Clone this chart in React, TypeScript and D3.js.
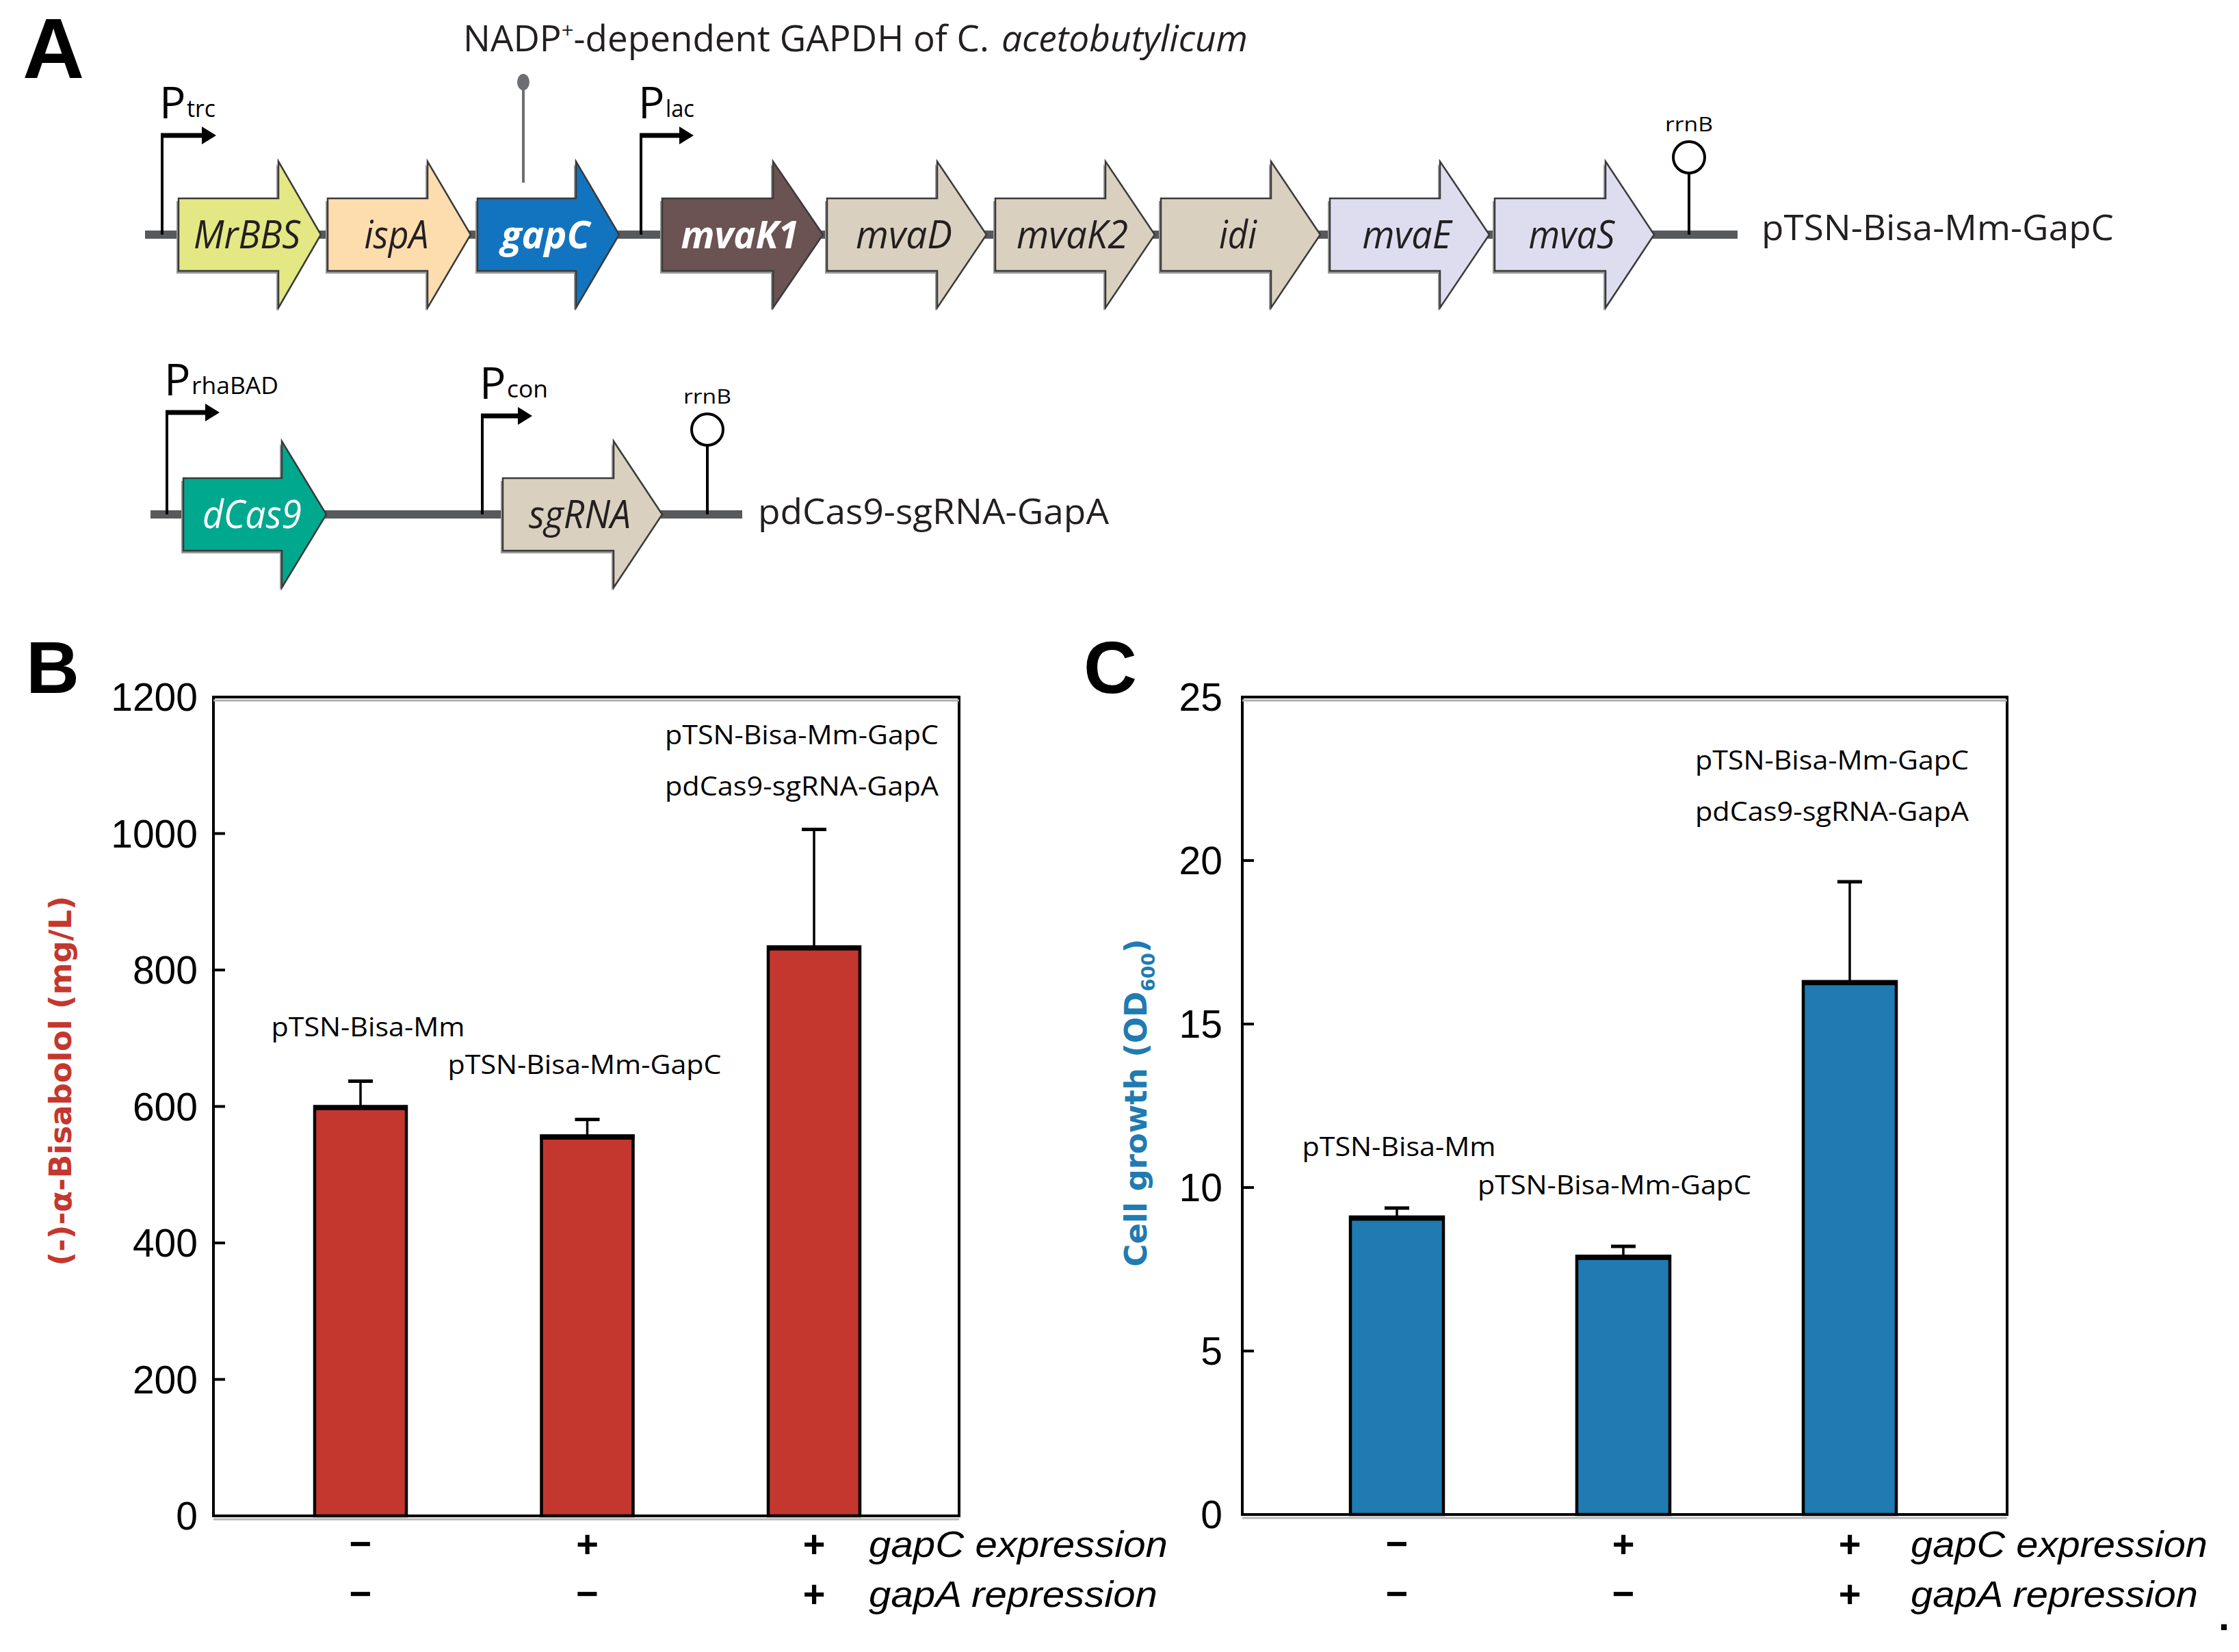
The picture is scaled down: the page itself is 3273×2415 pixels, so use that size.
import React from 'react';
import * as d3 from 'd3';

// ---------------- DATA ----------------
const categories = ['pTSN-Bisa-Mm', 'pTSN-Bisa-Mm-GapC', 'pTSN-Bisa-Mm-GapC/pdCas9-sgRNA-GapA'];
const bisabolol = [600, 557, 834];
const bisabololErr = [37, 24, 172];
const growth = [9.1, 7.9, 16.3];
const growthErr = [0.27, 0.3, 3.05];
const gapCExpression = ['\u2212', '+', '+'];
const gapARepression = ['\u2212', '\u2212', '+'];
const bisabololTicks = [0, 200, 400, 600, 800, 1000, 1200];
const growthTicks = [0, 5, 10, 15, 20, 25];
const barLabels = [['pTSN-Bisa-Mm'], ['pTSN-Bisa-Mm-GapC'], ['pTSN-Bisa-Mm-GapC', 'pdCas9-sgRNA-GapA']];

const operon1Genes = ['MrBBS', 'ispA', 'gapC', 'mvaK1', 'mvaD', 'mvaK2', 'idi', 'mvaE', 'mvaS'];
const operon1Colors = ['#E3E784', '#FDDCAE', '#1274BF', '#6B5253', '#D9D0BF', '#D9D0BF', '#D9D0BF', '#DEDDF0', '#DEDDF0'];
const operon2Genes = ['dCas9', 'sgRNA'];
const operon2Colors = ['#00A88E', '#D9D0BF'];

// ---------------- LAYOUT ----------------
const W = 3273;
const H = 2415;
const FONT_M = "'Open Sans', 'Noto Sans', sans-serif";
const FONT_A = "'Liberation Sans', Arial, sans-serif";
const FONT_V = "'DejaVu Sans', Verdana, sans-serif";

// gene arrow layout (start, head base, tip) in px
const op1Layout = [
  [261, 407, 469], [479, 625, 688], [698, 842, 905], [968, 1130, 1203], [1209, 1370, 1442],
  [1455, 1616, 1688], [1697, 1858, 1930], [1944, 2105, 2177], [2185, 2347, 2418],
];
const op1LabelW = [156, 94, 130, 172, 141, 163, 55, 130, 126];
const op1LabelStyle = ['n', 'n', 'w', 'w', 'n', 'n', 'n', 'n', 'n'];
const op2Layout = [[268, 412, 477], [735, 897, 968]];
const op2LabelW = [145, 149];
const op2LabelStyle = ['wl', 'n'];

function arrowPath(x0: number, xh: number, tip: number, c: number, bh: number, hh: number) {
  const p = d3.path();
  p.moveTo(x0, c - bh);
  p.lineTo(xh, c - bh);
  p.lineTo(xh, c - hh);
  p.lineTo(tip, c);
  p.lineTo(xh, c + hh);
  p.lineTo(xh, c + bh);
  p.lineTo(x0, c + bh);
  p.closePath();
  return p.toString();
}

function GeneRow({ genes, colors, layout, labelW, styles, cy }: any) {
  return (
    <g>
      {genes.map((g: string, i: number) => {
        const [x0, xh, tip] = layout[i];
        const st = styles[i];
        const white = st === 'w' || st === 'wl';
        return (
          <g key={g}>
            <path d={arrowPath(x0 - 3, xh - 3, tip - 3, cy + 4, 53, 107)} fill="#9a9a9a" />
            <path d={arrowPath(x0, xh, tip, cy, 53, 107)} fill={colors[i]} stroke="#3a3a3a" strokeWidth={2.5} strokeLinejoin="miter" />
            <text x={(x0 + tip) / 2 - 4} y={cy + 20} textAnchor="middle" fontFamily={FONT_M}
              fontStyle="italic" fontWeight={st === 'w' ? 700 : 400} fontSize={56}
              fill={white ? '#ffffff' : '#231F20'} textLength={labelW[i]} lengthAdjust="spacingAndGlyphs">{g}</text>
          </g>
        );
      })}
    </g>
  );
}

function Promoter({ x, base, top, len, label, sub, subW }: any) {
  const hx = x + len;
  return (
    <g>
      <line x1={x} y1={base} x2={x} y2={top} stroke="#000" strokeWidth={4} />
      <line x1={x - 2} y1={top} x2={hx} y2={top} stroke="#000" strokeWidth={7} />
      <path d={`M${hx},${top - 13}L${hx + 21},${top}L${hx},${top + 13}Z`} fill="#000" />
      <text x={x - 4} y={top - 25} fontFamily={FONT_M} fontSize={64} fill="#000">{label}</text>
      <text x={x + 36} y={top - 27} fontFamily={FONT_M} fontSize={34} fill="#000" textLength={subW} lengthAdjust="spacingAndGlyphs">{sub}</text>
    </g>
  );
}

function Terminator({ x, base, stem, r }: any) {
  const cy = base - stem - r;
  return (
    <g>
      <line x1={x} y1={base} x2={x} y2={cy + r} stroke="#000" strokeWidth={4} />
      <circle cx={x} cy={cy} r={r} fill="#fff" stroke="#000" strokeWidth={4} />
      <text x={x} y={cy - r - 15} textAnchor="middle" fontFamily={FONT_M} fontSize={30} fill="#000" textLength={70} lengthAdjust="spacingAndGlyphs">rrnB</text>
    </g>
  );
}

function BarPanel({ values, errors, ticks, left, right, top, bottom, centers, barW, fill, tickRight,
  yLabel, yLabelX, yLabelY, topOffset, labelOffset, labelDx, condX, condW }: any) {
  const max = ticks[ticks.length - 1];
  const y = d3.scaleLinear().domain([0, max]).range([bottom, top]);
  const x = d3.scalePoint<string>().domain(categories).range(centers);
  const row1 = 2276;
  const row2 = 2349;
  return (
    <g>
      {/* bars */}
      {categories.map((c, i) => {
        const cx = x(c)!;
        const yt = y(values[i]);
        const ye = y(values[i] + errors[i]);
        return (
          <g key={c}>
            <line x1={cx} y1={yt} x2={cx} y2={ye} stroke="#000" strokeWidth={3.5} />
            <line x1={cx - 18} y1={ye} x2={cx + 18} y2={ye} stroke="#000" strokeWidth={5} />
            <rect x={cx - barW / 2} y={yt} width={barW} height={bottom - yt} fill={fill} stroke="#000" strokeWidth={4.5} />
            <line x1={cx - barW / 2 - 2} y1={yt + 2} x2={cx + barW / 2 + 2} y2={yt + 2} stroke="#000" strokeWidth={7} />
          </g>
        );
      })}
      {/* frame */}
      <rect x={left} y={top} width={right - left} height={bottom - top} fill="none" stroke="#000" strokeWidth={4} />
      <line x1={left} y1={top + 5} x2={right} y2={top + 5} stroke="#b0b0b0" strokeWidth={3} />
      <line x1={left} y1={bottom + 5} x2={right} y2={bottom + 5} stroke="#b8b8b8" strokeWidth={3} />
      {/* ticks */}
      {ticks.map((t: number) => (
        <g key={t}>
          <line x1={left} y1={y(t)} x2={left + 17} y2={y(t)} stroke="#000" strokeWidth={4} />
          <text x={tickRight} y={y(t) + 20} textAnchor="end" fontFamily={FONT_A} fontSize={57} fill="#000">{t}</text>
        </g>
      ))}
      {/* y label */}
      <text transform={`translate(${yLabelX},${yLabelY}) rotate(-90)`} textAnchor="middle" fontFamily={FONT_V}
        fontWeight={700} fontSize={45} fill={fill}>{yLabel}</text>
      {/* annotations */}
      {barLabels.map((lines, i) => {
        const cx = x(categories[i])! + labelDx[i];
        if (lines.length === 1) {
          const ye = y(values[i] + errors[i]);
          return (
            <text key={i} x={cx} y={ye - labelOffset} textAnchor="middle" fontFamily={FONT_M} fontSize={39} fill="#000"
              textLength={lines[0].length > 13 ? 400 : 283} lengthAdjust="spacingAndGlyphs">{lines[0]}</text>
          );
        }
        return (
          <g key={i}>
            {lines.map((l: string, j: number) => (
              <text key={j} x={cx} y={top + topOffset + j * 75} textAnchor="middle" fontFamily={FONT_M} fontSize={39}
                fill="#000" textLength={400} lengthAdjust="spacingAndGlyphs">{l}</text>
            ))}
          </g>
        );
      })}
      {/* condition rows */}
      {categories.map((c, i) => (
        <g key={'cond' + i}>
          <text x={x(c)!} y={row1} textAnchor="middle" fontFamily={FONT_A} fontWeight={700} fontSize={56} fill="#000">{gapCExpression[i]}</text>
          <text x={x(c)!} y={row2} textAnchor="middle" fontFamily={FONT_A} fontWeight={700} fontSize={56} fill="#000">{gapARepression[i]}</text>
        </g>
      ))}
      <text x={condX} y={row1} fontFamily={FONT_A} fontStyle="italic" fontSize={53} fill="#000" textLength={condW[0]} lengthAdjust="spacingAndGlyphs">gapC expression</text>
      <text x={condX} y={row2} fontFamily={FONT_A} fontStyle="italic" fontSize={53} fill="#000" textLength={condW[1]} lengthAdjust="spacingAndGlyphs">gapA repression</text>
    </g>
  );
}

export default function App() {
  React.useEffect(() => {
    document.body.style.margin = '0';
  }, []);
  const cy1 = 343;
  const cy2 = 752;
  return (
    <svg width={W} height={H} viewBox={`0 0 ${W} ${H}`} style={{ position: 'absolute', left: 0, top: 0, display: 'block', background: '#fff' }}
      xmlns="http://www.w3.org/2000/svg">
      <rect x={0} y={0} width={W} height={H} fill="#fff" />
      {/* Panel letters */}
      <text x={33} y={114} fontFamily={FONT_A} fontWeight={700} fontSize={125} fill="#000">A</text>
      <text x={38} y={1013} fontFamily={FONT_A} fontWeight={700} fontSize={108} fill="#000">B</text>
      <text x={1584} y={1013} fontFamily={FONT_A} fontWeight={700} fontSize={108} fill="#000">C</text>

      {/* ---------- Panel A row 1 ---------- */}
      <line x1={212} y1={cy1} x2={2540} y2={cy1} stroke="#58595B" strokeWidth={12} />
      <text x={677} y={75} fontFamily={FONT_M} fontSize={53} fill="#231F20">
        <tspan>NADP</tspan><tspan fontSize={31} dy={-19}>+</tspan><tspan dy={19}>-dependent GAPDH of C.</tspan>
      </text>
      <text x={1464} y={75} fontFamily={FONT_M} fontStyle="italic" fontSize={53} fill="#231F20" textLength={360} lengthAdjust="spacingAndGlyphs">acetobutylicum</text>
      <line x1={765} y1={267} x2={765} y2={118} stroke="#6D6E71" strokeWidth={4} />
      <ellipse cx={765} cy={120} rx={9} ry={12} fill="#6D6E71" />
      <Promoter x={237} base={cy1} top={198} len={58} label="P" sub="trc" subW={42} />
      <Promoter x={937} base={cy1} top={198} len={56} label="P" sub="lac" subW={42} />
      <GeneRow genes={operon1Genes} colors={operon1Colors} layout={op1Layout} labelW={op1LabelW} styles={op1LabelStyle} cy={cy1} />
      <Terminator x={2469} base={cy1} stem={90} r={23} />
      <text x={2575} y={351} fontFamily={FONT_M} fontSize={52} fill="#231F20" textLength={515} lengthAdjust="spacingAndGlyphs">pTSN-Bisa-Mm-GapC</text>

      {/* ---------- Panel A row 2 ---------- */}
      <line x1={220} y1={cy2} x2={1085} y2={cy2} stroke="#58595B" strokeWidth={12} />
      <Promoter x={244} base={cy2} top={603} len={56} label="P" sub="rhaBAD" subW={127} />
      <Promoter x={705} base={cy2} top={608} len={52} label="P" sub="con" subW={60} />
      <GeneRow genes={operon2Genes} colors={operon2Colors} layout={op2Layout} labelW={op2LabelW} styles={op2LabelStyle} cy={cy2} />
      <Terminator x={1034} base={cy2} stem={101} r={23} />
      <text x={1108} y={766} fontFamily={FONT_M} fontSize={52} fill="#231F20" textLength={513} lengthAdjust="spacingAndGlyphs">pdCas9-sgRNA-GapA</text>

      {/* ---------- Panel B ---------- */}
      <BarPanel values={bisabolol} errors={bisabololErr} ticks={bisabololTicks}
        left={312} right={1402} top={1019} bottom={2216} centers={[527, 1190]} barW={134}
        fill="#C4372E" tickRight={289} yLabel="(-)-α-Bisabolol (mg/L)" yLabelX={104} yLabelY={1580}
        topOffset={69} labelOffset={66} labelDx={[11, -4, -18]} condX={1270} condW={[437, 422]} />

      {/* ---------- Panel C ---------- */}
      <BarPanel values={growth} errors={growthErr} ticks={growthTicks}
        left={1816} right={2934} top={1019} bottom={2214} centers={[2042, 2704]} barW={136}
        fill="#1F7BB1" tickRight={1787} yLabel={<>Cell growth (OD<tspan fontSize={27} dy={12}>600</tspan><tspan dy={-12}>)</tspan></>}
        yLabelX={1676} yLabelY={1612}
        topOffset={106} labelOffset={76} labelDx={[3, -13, -26]} condX={2793} condW={[434, 420]} />
      <text x={3243} y={2383} fontFamily={FONT_A} fontWeight={700} fontSize={58} fill="#000">.</text>
    </svg>
  );
}
